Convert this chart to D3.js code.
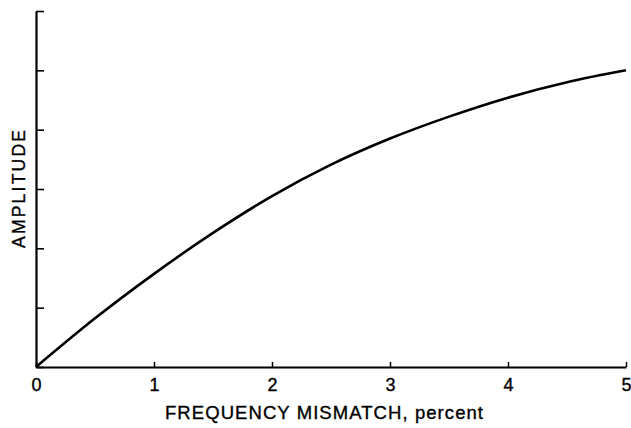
<!DOCTYPE html>
<html><head><meta charset="utf-8">
<script src="https://cdn.jsdelivr.net/npm/d3@7"></script>
<style>body{margin:0;background:#fff}svg{display:block}text{font-family:"Liberation Sans",Arial,sans-serif;fill:#000;stroke:#000;stroke-width:0.35px}</style>
</head><body><svg id="c" width="631" height="428"></svg>
<script>
const mismatch = [0, 0.5, 1, 1.5, 2, 2.5, 3, 3.5, 4, 4.5, 5];
const amplitude = [0, 0.82, 1.57, 2.26, 2.88, 3.41, 3.85, 4.22, 4.54, 4.80, 5.0];
const xTicks = [0, 1, 2, 3, 4, 5];
const yTicks = [0, 1, 2, 3, 4, 5, 6];
const xTitle = "FREQUENCY MISMATCH, percent";
const yTitle = "AMPLITUDE";

const svg = d3.select("#c");
const x = d3.scaleLinear().domain([0, 5]).range([36, 626]);
const y = d3.scaleLinear().domain([0, 6]).range([367, 11]);

const gx = svg.append("g").attr("transform", `translate(0,${y(0)})`)
  .call(d3.axisBottom(x).tickValues(xTicks).tickSize(-5).tickPadding(11).tickSizeOuter(0).tickFormat(d3.format("d")));
gx.select(".domain").attr("stroke", "#000").attr("stroke-width", 2.2);
gx.selectAll(".tick line").attr("stroke", "#000").attr("stroke-width", 1.5);
gx.selectAll(".tick text").attr("font-size", 18).attr("font-family", "Liberation Sans, Arial, sans-serif");

const gy = svg.append("g").attr("transform", `translate(${x(0)},0)`)
  .call(d3.axisLeft(y).tickValues(yTicks).tickSize(-8).tickSizeOuter(0).tickFormat(""));
gy.select(".domain").attr("stroke", "#000").attr("stroke-width", 2.2);
gy.selectAll(".tick line").attr("stroke", "#000").attr("stroke-width", 1.6);

svg.append("path")
  .datum(mismatch.map((m, i) => [m, amplitude[i]]))
  .attr("fill", "none").attr("stroke", "#000").attr("stroke-width", 2.6)
  .attr("d", d3.line().x(d => x(d[0])).y(d => y(d[1])).curve(d3.curveMonotoneX));

svg.append("text").attr("x", 165).attr("y", 419).attr("font-size", 18.5)
  .attr("textLength", 318).attr("lengthAdjust", "spacing").text(xTitle);
svg.append("text").attr("transform", "translate(25,189) rotate(-90)")
  .attr("text-anchor", "middle").attr("font-size", 17.5)
  .attr("textLength", 118).attr("lengthAdjust", "spacing").text(yTitle);
</script></body></html>
